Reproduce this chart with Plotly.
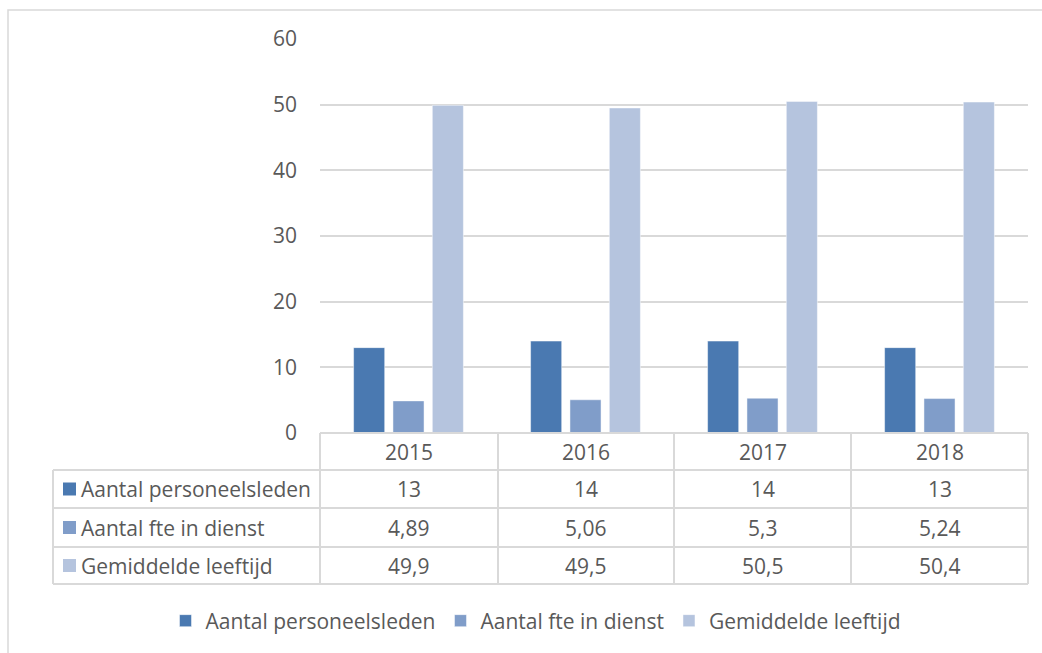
import plotly.graph_objects as go

years = ["2015", "2016", "2017", "2018"]
series_names = ["Aantal personeelsleden", "Aantal fte in dienst", "Gemiddelde leeftijd"]
personeel = [13, 14, 14, 13]
fte = [4.89, 5.06, 5.3, 5.24]
leeftijd = [49.9, 49.5, 50.5, 50.4]
series_values = [personeel, fte, leeftijd]
colors = ["#4A79B1", "#809DC9", "#B5C4DE"]
y_ticks = [0, 10, 20, 30, 40, 50, 60]

W, H = 1042, 653
FONT = "Open Sans"
FS = 21
TXT = "#595959"
GRID = "#D9D9D9"


def px(x):
    return x / W


def py(y):
    return 1 - y / H


fig = go.Figure()
for name, vals, col in zip(series_names, series_values, colors):
    fig.add_trace(go.Bar(x=years, y=vals, name=name,
                         marker=dict(color=col, line=dict(width=0.8, color="rgba(255,255,255,0.6)"))))

# table geometry
left_x, plot_l, plot_r = 53, 320, 1028
row_y = [433, 470, 508, 547, 584]
col_x = [320, 498, 674, 851, 1028]

shapes = []
# outer chart border
shapes.append(dict(type="rect", xref="paper", yref="paper", x0=px(8), x1=px(1060),
                   y0=py(10), y1=py(680), line=dict(color=GRID, width=1.5), fillcolor="rgba(0,0,0,0)", layer="below"))
# horizontal table lines
shapes.append(dict(type="line", xref="paper", yref="paper", x0=px(plot_l), x1=px(plot_r),
                   y0=py(row_y[0]), y1=py(row_y[0]), line=dict(color=GRID, width=2)))
for yy in row_y[1:]:
    shapes.append(dict(type="line", xref="paper", yref="paper", x0=px(left_x), x1=px(plot_r),
                       y0=py(yy), y1=py(yy), line=dict(color=GRID, width=2)))
# vertical table lines
shapes.append(dict(type="line", xref="paper", yref="paper", x0=px(left_x), x1=px(left_x),
                   y0=py(row_y[1]), y1=py(row_y[-1]), line=dict(color=GRID, width=2)))
for xx in col_x:
    shapes.append(dict(type="line", xref="paper", yref="paper", x0=px(xx), x1=px(xx),
                       y0=py(row_y[0]), y1=py(row_y[-1]), line=dict(color=GRID, width=2)))

annotations = []
# header row (category index positions on the x axis)
for ci, yr in enumerate(years):
    annotations.append(dict(x=ci, xref="x", y=py((row_y[0] + row_y[1]) / 2), yref="paper",
                            text=yr, showarrow=False, font=dict(family=FONT, size=FS, color=TXT),
                            xanchor="center", yanchor="middle"))
for i, (name, vals, col) in enumerate(zip(series_names, series_values, colors)):
    yc = (row_y[i + 1] + row_y[i + 2]) / 2
    shapes.append(dict(type="rect", xref="paper", yref="paper", x0=px(63), x1=px(76),
                       y0=py(yc - 6.5), y1=py(yc + 6.5), line=dict(width=0), fillcolor=col))
    annotations.append(dict(x=px(79), xref="paper", y=py(yc), yref="paper", text=name,
                            showarrow=False, font=dict(family=FONT, size=FS, color=TXT),
                            xanchor="left", yanchor="middle"))
    for ci, v in enumerate(vals):
        annotations.append(dict(x=ci, xref="x", y=py(yc), yref="paper",
                                text=str(v).replace(".", ","), showarrow=False,
                                font=dict(family=FONT, size=FS, color=TXT),
                                xanchor="center", yanchor="middle"))

fig.update_layout(
    width=W, height=H, autosize=False,
    margin=dict(l=0, r=0, t=0, b=0, autoexpand=False),
    paper_bgcolor="white", plot_bgcolor="white",
    barmode="group", bargap=0.333, bargroupgap=0.21,
    font=dict(family=FONT, size=FS, color=TXT),
    xaxis=dict(type="category", range=[-0.5, len(years) - 0.5], domain=[px(plot_l), px(plot_r)],
               showticklabels=False, showgrid=False, automargin=False,
               zeroline=False, showline=False, ticks=""),
    yaxis=dict(domain=[py(433), py(39)], range=[0, 60], tickvals=y_ticks, automargin=False,
               showgrid=True, gridcolor=GRID, gridwidth=1.5, zeroline=False,
               showline=False, ticks="", ticklabelstandoff=22,
               tickfont=dict(family=FONT, size=FS, color=TXT)),
    legend=dict(orientation="h", x=px(536), xanchor="center", y=py(621), yanchor="middle",
                font=dict(family=FONT, size=FS, color=TXT), bgcolor="rgba(0,0,0,0)",
                itemwidth=30),
    shapes=shapes, annotations=annotations,
)

post_js = (
    "document.documentElement.style.margin='0';"
    "document.body.style.margin='0';document.body.style.overflow='hidden';"
    "var d=document.getElementById('{plot_id}');"
    "d.style.position='fixed';d.style.top='0';d.style.left='0';"
)
fig.write_html("out.html", post_script=post_js, config={"displayModeBar": False})
